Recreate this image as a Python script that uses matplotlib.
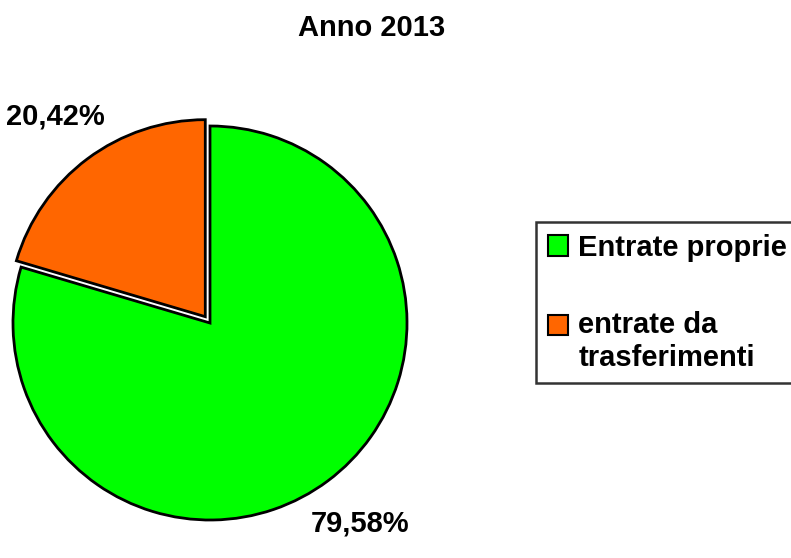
import matplotlib.pyplot as plt
from matplotlib.patches import Patch, Rectangle
from matplotlib.legend_handler import HandlerPatch

plt.rcParams['font.family'] = ['Liberation Sans', 'DejaVu Sans']
plt.rcParams['font.weight'] = 'bold'

# Composizione delle entrate
categorie = ['entrate da\ntrasferimenti', 'Entrate proprie']
percentuali = [20.42, 79.58]
colori = ['#FF6600', '#00FF00']
titolo = 'Anno 2013'


def etichetta(p):
    return f'{p:.2f}%'.replace('.', ',')


fig = plt.figure(figsize=(7.91, 5.58), dpi=100)

# Pie area: center near (210, 323) px, radius ~197 px
ax = fig.add_axes([13 / 791, 38 / 558, 394 / 791, 394 / 558])
wedges, texts, autotexts = ax.pie(
    percentuali,
    colors=colori,
    startangle=90,
    counterclock=True,
    explode=[0.04, 0],
    autopct=etichetta,
    pctdistance=1.27,
    wedgeprops=dict(edgecolor='black', linewidth=2),
    textprops=dict(fontsize=21, fontweight='bold', color='black'),
)
ax.set_xlim(-1, 1)
ax.set_ylim(-1, 1)
ax.set_aspect('equal')
ax.axis('off')

fig.text(372 / 791, 1 - 28 / 558, titolo, ha='center', va='center',
         fontsize=21, fontweight='bold')


# square marker next to the first line of a two-line label
class HandlerFirstLine(HandlerPatch):
    def __init__(self, nlines=1, **kw):
        super().__init__(**kw)
        self.nlines = nlines

    def create_artists(self, legend, orig_handle, xdescent, ydescent,
                       width, height, fontsize, trans):
        shift = (self.nlines - 1) * 1.2 * fontsize / 2
        p = Rectangle((-xdescent, -ydescent + shift), width, height)
        self.update_prop(p, orig_handle, legend)
        p.set_transform(trans)
        return [p]


h_proprie = Patch(facecolor=colori[1], edgecolor='black', linewidth=1.5)
h_trasf = Patch(facecolor=colori[0], edgecolor='black', linewidth=1.5)
leg = fig.legend([h_proprie, h_trasf], [categorie[1], categorie[0]],
                 handler_map={h_trasf: HandlerFirstLine(nlines=2)},
                 loc='upper left', bbox_to_anchor=(536 / 791, 1 - 222 / 558),
                 frameon=True, fancybox=False, fontsize=21,
                 handlelength=0.7, handleheight=0.7, handletextpad=0.35,
                 labelspacing=1.7, borderpad=0.4, borderaxespad=0)
leg.get_frame().set_edgecolor('black')
leg.get_frame().set_linewidth(1.8)
for t in leg.get_texts():
    t.set_fontweight('bold')

fig.savefig('out.png', dpi=100)
